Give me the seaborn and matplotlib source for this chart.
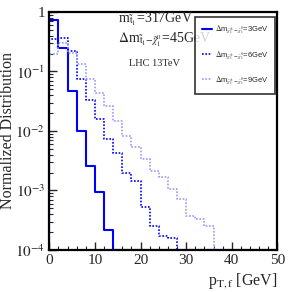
import numpy as np
import pandas as pd
import matplotlib
matplotlib.use("Agg")
import matplotlib.pyplot as plt
import seaborn as sns

# ---- data (bin edges 0..50 GeV, width 2 GeV) ----
bin_edges = list(range(0, 52, 2))
dm3 = [0.73, 0.25, 0.047, 0.0101, 0.00254, 0.00094, 0.00022] + [0] * 18
dm6 = [0.35, 0.37, 0.22, 0.075, 0.0336, 0.0159, 0.0073, 0.0042, 0.0020,
       0.00142, 0.00053, 0.000255, 0.000173, 0.000158] + [0] * 11
dm9 = [0.20, 0.30, 0.205, 0.131, 0.075, 0.0436, 0.0259, 0.0149, 0.0083,
       0.0054, 0.0034, 0.0021, 0.00167, 0.00106, 0.00073, 0.000375,
       0.000334, 0.000255] + [0] * 7
labels = [r"$\Delta$m$_{\tilde{\chi}^{\pm}_{1}-\tilde{\chi}^{0}_{1}}$=3GeV",
          r"$\Delta$m$_{\tilde{\chi}^{\pm}_{1}-\tilde{\chi}^{0}_{1}}$=6GeV",
          r"$\Delta$m$_{\tilde{\chi}^{\pm}_{1}-\tilde{\chi}^{0}_{1}}$=9GeV"]
x_ticks = [0, 10, 20, 30, 40, 50]

YMIN, YMAX = 1e-4, 1.0

sns.set_theme(style="ticks")
plt.rcParams["font.family"] = ["Liberation Serif", "DejaVu Serif"]
plt.rcParams["mathtext.fontset"] = "stix"

fig = plt.figure(figsize=(2.92, 2.92), dpi=100)
ax = fig.add_axes([0.169, 0.144, 0.781, 0.815])

styles = [dict(color="#0000ff", linestyle="-", linewidth=1.5),
          dict(color="#0000ff", linestyle=(0, (1, 1)), linewidth=1.2),
          dict(color="#9a9aff", linestyle=(0, (1, 1)), linewidth=1.2)]

for vals, lab, st in zip([dm3, dm6, dm9], labels, styles):
    v = np.maximum(np.array(vals, dtype=float), YMIN)
    xs = [bin_edges[0]] + bin_edges
    ys = [YMIN] + list(v) + [v[-1]]
    df = pd.DataFrame({"x": xs, "y": ys})
    sns.lineplot(data=df, x="x", y="y", sort=False, estimator=None,
                 drawstyle="steps-post", ax=ax, label=lab, **st)

ax.set_yscale("log")
ax.set_xlim(0, 50)
ax.set_ylim(YMIN, YMAX)
ax.set_xticks(x_ticks)
ax.set_xticks(np.arange(0, 51, 2), minor=True)
ax.tick_params(axis="both", which="major", direction="in", length=6, width=1.0,
               labelsize=11, pad=3, top=False, right=False)
ax.tick_params(axis="both", which="minor", direction="in", length=3, width=0.8,
               top=False, right=False)
for s in ax.spines.values():
    s.set_linewidth(1.6)
    s.set_color("black")
ax.set_yticks([1e-4, 1e-3, 1e-2, 1e-1, 1])
ax.set_yticklabels([r"$10^{-4}$", r"$10^{-3}$", r"$10^{-2}$", r"$10^{-1}$", "1"])

ax.set_ylabel("Normalized Distribution", fontsize=11.5)
ax.yaxis.set_label_coords(-0.148, 0.5)
ax.set_xlabel(r"p$_{\mathrm{T,f}}$ [GeV]", fontsize=11.5)
ax.xaxis.set_label_coords(1.0, -0.09)
ax.xaxis.label.set_ha("right")

ax.text(0.30, 0.955, r"m$_{\tilde{\mathrm{t}}_1}$=317GeV", transform=ax.transAxes,
        fontsize=10, va="baseline")
ax.text(0.30, 0.87, r"$\Delta$m$_{\tilde{\mathrm{t}}_1\mathrm{-}\tilde{\chi}^0_1}$=45GeV",
        transform=ax.transAxes, fontsize=10, va="baseline")
ax.text(0.35, 0.775, "LHC 13TeV", transform=ax.transAxes, fontsize=7.5,
        va="baseline")

leg = ax.legend(loc="upper right", bbox_to_anchor=(0.99, 0.98), borderaxespad=0,
                frameon=True, fancybox=False, edgecolor="black",
                prop={"family": "Liberation Sans", "size": 5.5},
                handlelength=1.3, labelspacing=1.6, borderpad=0.9,
                handletextpad=0.4)
leg.get_frame().set_linewidth(1.2)

fig.savefig("out.png", dpi=100)
